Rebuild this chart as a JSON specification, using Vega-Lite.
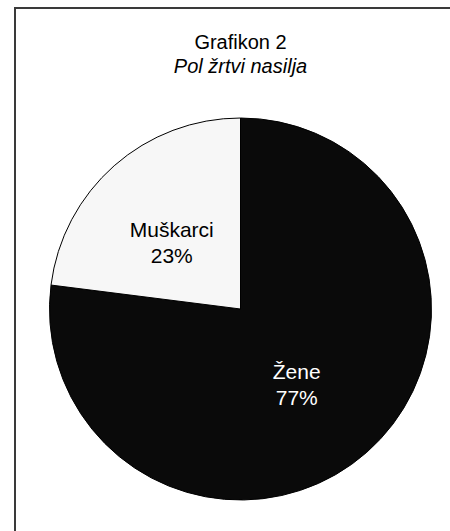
{
  "$schema": "https://vega.github.io/schema/vega-lite/v6.json",
  "width": 451,
  "height": 602,
  "autosize": "none",
  "padding": {"left": 15, "top": 8, "right": 0, "bottom": 0},
  "background": "white",
  "view": {"stroke": "#3a3a3a", "strokeWidth": 2, "fill": "white"},
  "config": {"view": {"stroke": "#3a3a3a", "strokeWidth": 2}, "font": "Liberation Sans"},
  "title": {
    "text": "Grafikon 2",
    "subtitle": "Pol žrtvi nasilja",
    "anchor": "middle",
    "frame": "group",
    "offset": -69,
    "font": "Liberation Sans",
    "fontSize": 20,
    "fontWeight": "normal",
    "color": "#000000",
    "subtitleFont": "Liberation Sans",
    "subtitleFontSize": 20,
    "subtitleFontStyle": "italic",
    "subtitleColor": "#000000",
    "subtitlePadding": 4
  },
  "data": {"values": [
    {"sex": "Žene", "share": 77},
    {"sex": "Muškarci", "share": 23}
  ]},
  "encoding": {
    "theta": {"field": "share", "type": "quantitative", "stack": true},
    "order": {"field": "share", "type": "quantitative", "sort": "descending"}
  },
  "layer": [
    {
      "mark": {"type": "arc", "radius": 191, "stroke": "#000000", "strokeWidth": 1},
      "encoding": {
        "color": {
          "field": "sex",
          "type": "nominal",
          "scale": {"domain": ["Žene", "Muškarci"], "range": ["#0a0a0a", "#f7f7f7"]},
          "legend": null
        }
      }
    },
    {
      "transform": [{"calculate": "datum.sex == 'Muškarci' ? [datum.sex, datum.share + '%'] : ''", "as": "lab"}],
      "mark": {"type": "text", "radius": 104, "fontSize": 21, "lineHeight": 26, "color": "#000000", "font": "Liberation Sans", "baseline": "middle", "align": "center"},
      "encoding": {"text": {"field": "lab"}}
    },
    {
      "transform": [{"calculate": "datum.sex == 'Žene' ? [datum.sex, datum.share + '%'] : ''", "as": "lab"}],
      "mark": {"type": "text", "radius": 85, "fontSize": 21, "lineHeight": 26, "color": "#ffffff", "font": "Liberation Sans", "baseline": "middle", "align": "center"},
      "encoding": {"text": {"field": "lab"}}
    }
  ]
}
